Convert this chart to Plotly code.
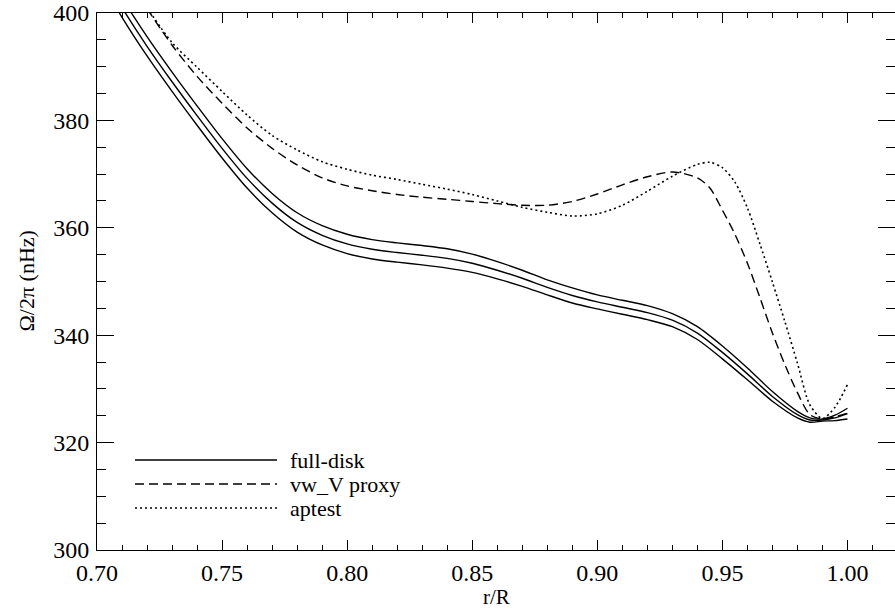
import plotly.graph_objects as go

# ---------------- data ----------------
r_full = [0.70, 0.71, 0.72, 0.73, 0.74, 0.75, 0.76, 0.77, 0.78, 0.79, 0.80,
          0.81, 0.82, 0.83, 0.84, 0.85, 0.86, 0.87, 0.88, 0.89, 0.90,
          0.91, 0.92, 0.93, 0.94, 0.95, 0.96, 0.97, 0.98, 0.985, 0.99, 0.995, 1.00]
omega_full = [409.0, 401.0, 393.8, 387.2, 380.9, 374.8, 369.2, 364.6, 361.0, 358.6, 357.0,
              356.0, 355.4, 354.9, 354.3, 353.4, 352.1, 350.6, 348.9, 347.4, 346.2,
              345.2, 344.2, 342.8, 340.4, 336.8, 332.8, 328.6, 325.2, 324.2, 324.2, 324.6, 325.4]
omega_full_hi = [410.8, 402.8, 395.6, 389.0, 382.7, 376.6, 371.0, 366.4, 362.8, 360.4, 358.8,
                 357.8, 357.2, 356.7, 356.1, 355.1, 353.7, 352.1, 350.3, 348.8, 347.5,
                 346.5, 345.5, 344.0, 341.6, 338.0, 333.9, 329.5, 325.8, 324.6, 324.4, 325.1, 326.4]
omega_full_lo = [407.2, 399.2, 392.0, 385.4, 379.1, 373.0, 367.4, 362.8, 359.2, 356.8, 355.2,
                 354.2, 353.6, 353.1, 352.5, 351.7, 350.5, 349.1, 347.5, 346.0, 344.9,
                 343.9, 342.9, 341.6, 339.2, 335.6, 331.7, 327.7, 324.6, 323.8, 324.0, 324.1, 324.4]

r_proxy = [0.72, 0.73, 0.74, 0.75, 0.76, 0.77, 0.78, 0.79, 0.80, 0.81, 0.82, 0.83, 0.84,
           0.85, 0.86, 0.87, 0.88, 0.89, 0.90, 0.91, 0.92, 0.93, 0.94, 0.945, 0.95,
           0.955, 0.96, 0.965, 0.97, 0.975, 0.98, 0.985, 0.99, 0.995, 1.00]
omega_proxy = [400.8, 394.0, 388.2, 383.2, 378.6, 374.8, 371.7, 369.3, 367.8, 366.9, 366.2, 365.7, 365.3,
               364.9, 364.5, 364.2, 364.2, 364.9, 366.3, 368.0, 369.5, 370.4, 369.3, 367.4, 363.3,
               358.8, 353.4, 347.0, 340.4, 334.5, 329.3, 325.2, 324.4, 324.8, 325.5]

r_aptest = [0.72, 0.73, 0.74, 0.75, 0.76, 0.77, 0.78, 0.79, 0.80, 0.81, 0.82, 0.83, 0.84,
            0.85, 0.86, 0.87, 0.88, 0.89, 0.90, 0.91, 0.92, 0.93, 0.94, 0.945, 0.95,
            0.955, 0.96, 0.965, 0.97, 0.975, 0.98, 0.985, 0.99, 0.995, 1.00]
omega_aptest = [401.0, 394.5, 389.9, 385.4, 381.0, 377.2, 374.5, 372.3, 370.9, 369.8, 369.0, 368.1, 367.2,
                366.2, 365.0, 363.8, 362.9, 362.2, 362.6, 364.2, 366.8, 369.6, 371.8, 372.2, 371.2,
                368.5, 363.7, 357.0, 349.9, 342.5, 334.8, 327.0, 324.5, 326.6, 330.8]

legend_labels = ["full-disk", "vw_V proxy", "aptest"]
x_ticks = [0.70, 0.75, 0.80, 0.85, 0.90, 0.95, 1.00]
y_ticks = [300, 320, 340, 360, 380, 400]

# ---------------- styling ----------------
FONT = "Liberation Serif"
LW = 1.4
DASH = "9px,5px"
DOT = "2px,3px"
styles = [None, DASH, DOT]

fig = go.Figure()
for ys in (omega_full_lo, omega_full, omega_full_hi):
    fig.add_trace(go.Scatter(x=r_full, y=ys, mode="lines",
                             line=dict(color="black", width=LW, shape="spline", smoothing=0.8),
                             showlegend=False, hoverinfo="skip"))
fig.add_trace(go.Scatter(x=r_proxy, y=omega_proxy, mode="lines",
                         line=dict(color="black", width=LW, dash=DASH, shape="spline", smoothing=0.8),
                         showlegend=False))
fig.add_trace(go.Scatter(x=r_aptest, y=omega_aptest, mode="lines",
                         line=dict(color="black", width=1.6, dash=DOT, shape="spline", smoothing=0.8),
                         showlegend=False))

tickfont = dict(family=FONT, size=24, color="black")
axis_common = dict(showgrid=False, zeroline=False, showline=True, linecolor="black", linewidth=1,
                   mirror="allticks", ticks="inside", tickcolor="black", tickwidth=1)

# manual IDL-style legend
W, H = 895, 612
ml, mr, mt, mb = 97, 0, 13, 62
pw, ph = W - ml - mr, H - mt - mb
def px2paper(x, y):
    return (x - ml) / pw, (H - mb - y) / ph

shapes = []
annotations = []
for i, (lab, dsh) in enumerate(zip(legend_labels, styles)):
    ypx = 460 + 24 * i
    x0, y0 = px2paper(135, ypx)
    x1, _ = px2paper(277, ypx)
    line = dict(color="black", width=LW if dsh != DOT else 1.6)
    if dsh:
        line["dash"] = dsh
    shapes.append(dict(type="line", xref="paper", yref="paper", x0=x0, x1=x1, y0=y0, y1=y0, line=line))
    tx, _ = px2paper(288, ypx)
    annotations.append(dict(text=lab, xref="paper", yref="paper", x=tx, y=y0, xanchor="left",
                            yanchor="middle", showarrow=False,
                            font=dict(family=FONT, size=22, color="black")))

annotations.append(dict(text="r/R", xref="paper", yref="paper", x=0.5, y=0, xanchor="center",
                        yanchor="middle", yshift=-47, showarrow=False,
                        font=dict(family=FONT, size=21, color="black")))
annotations.append(dict(text="Ω/2π (nHz)", xref="paper", yref="paper", x=0, y=0.5, xanchor="center",
                        yanchor="middle", xshift=-71, textangle=-90, showarrow=False,
                        font=dict(family=FONT, size=22, color="black")))

fig.update_layout(
    width=W, height=H, margin=dict(l=ml, r=mr, t=mt, b=mb),
    font=dict(family=FONT, size=22, color="black"),
    paper_bgcolor="white", plot_bgcolor="white",
    xaxis=dict(range=[0.70, 1.019], tickvals=x_ticks, ticktext=[f"{v:.2f}" for v in x_ticks],
               ticklen=10, ticklabelstandoff=1, tickfont=tickfont,
               minor=dict(dtick=0.01, tick0=0.70, ticklen=5, ticks="inside", tickcolor="black", tickwidth=1),
               **axis_common),
    yaxis=dict(range=[300, 400], tickvals=y_ticks, ticklen=17, ticklabelstandoff=2, tickfont=tickfont,
               minor=dict(dtick=5, tick0=300, ticklen=9, ticks="inside", tickcolor="black", tickwidth=1),
               **axis_common),
    shapes=shapes, annotations=annotations, showlegend=False)

fig.write_html("out.html")
